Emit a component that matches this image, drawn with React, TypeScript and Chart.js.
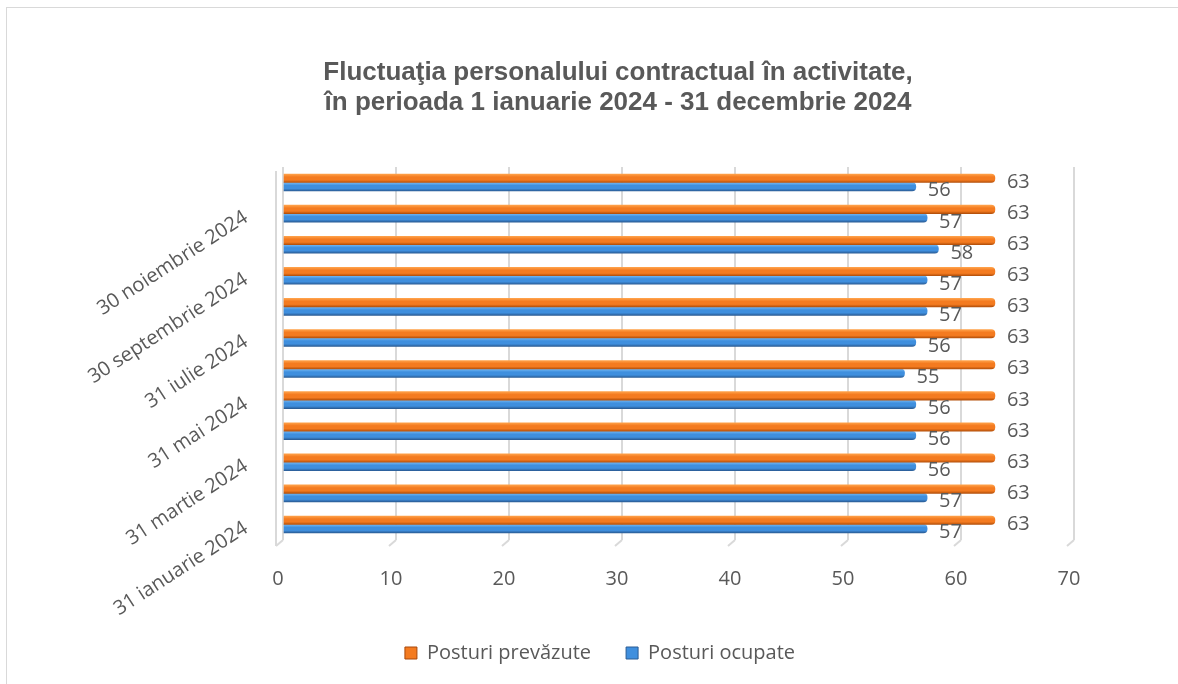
import React, { useEffect, useRef } from 'react';
import { Chart, registerables } from 'chart.js';

Chart.register(...registerables);

const titleLines = [
  'Fluctuaţia personalului contractual în activitate,',
  'în perioada 1 ianuarie 2024 - 31 decembrie 2024',
];

const categories = [
  '31 ianuarie 2024',
  '29 februarie 2024',
  '31 martie 2024',
  '30 aprilie 2024',
  '31 mai 2024',
  '30 iunie 2024',
  '31 iulie 2024',
  '31 august 2024',
  '30 septembrie 2024',
  '31 octombrie 2024',
  '30 noiembrie 2024',
  '31 decembrie 2024',
];

const posturiPrevazute = [63, 63, 63, 63, 63, 63, 63, 63, 63, 63, 63, 63];
const posturiOcupate = [57, 57, 56, 56, 56, 55, 56, 57, 57, 58, 57, 56];

const seriesNames = ['Posturi prevăzute', 'Posturi ocupate'];

const xMin = 0;
const xMax = 70;
const xStep = 10;

const TEXT = '#595959';
const GRID = '#d9d9d9';
const FONT = '"Open Sans", "Noto Sans", sans-serif';

// [top, middle, bottom, edge]
const orangeShades = ['#ffa24a', '#f47b20', '#b4500a', '#a9480a'];
const blueShades = ['#74b9f5', '#3f8fde', '#2a5c95', '#2a5c95'];
const shades = [orangeShades, blueShades];

const frameP = {
  id: 'frameP',
  beforeDraw(chart: any) {
    const { ctx } = chart;
    ctx.save();
    ctx.fillStyle = '#ffffff';
    ctx.fillRect(0, 0, chart.width, chart.height);
    ctx.strokeStyle = GRID;
    ctx.lineWidth = 1;
    ctx.strokeRect(6.5, 7.5, 1400, 1000);
    ctx.restore();
  },
};

const depthP = {
  id: 'depthP',
  beforeDatasetsDraw(chart: any) {
    const { ctx, chartArea } = chart;
    const { top, bottom, left } = chartArea;
    const x = chart.scales.x;
    ctx.save();
    ctx.strokeStyle = GRID;
    ctx.lineWidth = 2;
    ctx.beginPath();
    x.ticks.forEach((t: any) => {
      const px = x.getPixelForValue(t.value);
      ctx.moveTo(px, bottom);
      ctx.lineTo(px - 7, bottom + 6);
    });
    ctx.moveTo(left - 7, top + 4);
    ctx.lineTo(left - 7, bottom + 6);
    ctx.stroke();
    ctx.restore();
  },
};

const gradientP = {
  id: 'gradientP',
  beforeDatasetsDraw(chart: any) {
    const { ctx } = chart;
    chart.data.datasets.forEach((_ds: any, di: number) => {
      const meta = chart.getDatasetMeta(di);
      const s = shades[di];
      meta.data.forEach((el: any) => {
        const { y, height } = el.getProps(['y', 'height'], true);
        const g = ctx.createLinearGradient(0, y - height / 2, 0, y + height / 2);
        g.addColorStop(0, s[0]);
        g.addColorStop(0.35, s[1]);
        g.addColorStop(0.7, s[1]);
        g.addColorStop(1, s[2]);
        el.options = Object.assign({}, el.options, { backgroundColor: g });
      });
    });
  },
};

const labelsP = {
  id: 'labelsP',
  afterDatasetsDraw(chart: any) {
    const { ctx } = chart;
    ctx.save();
    ctx.font = '20px ' + FONT;
    ctx.fillStyle = TEXT;
    ctx.textAlign = 'left';
    ctx.textBaseline = 'middle';
    chart.data.datasets.forEach((ds: any, di: number) => {
      const meta = chart.getDatasetMeta(di);
      meta.data.forEach((el: any, i: number) => {
        const { x, y } = el.getProps(['x', 'y'], true);
        ctx.fillText(String(ds.data[i]), x + 12, y + 4);
      });
    });
    ctx.restore();
  },
};

const titleP = {
  id: 'titleP',
  afterDraw(chart: any) {
    const { ctx } = chart;
    ctx.save();
    ctx.font = 'bold 26px "Liberation Sans", Arial, sans-serif';
    ctx.fillStyle = TEXT;
    ctx.textAlign = 'center';
    ctx.textBaseline = 'middle';
    titleLines.forEach((line, i) => {
      ctx.fillText(line, 618, 73 + i * 30);
    });
    ctx.restore();
  },
};

export default function App() {
  const ref = useRef<HTMLCanvasElement | null>(null);

  useEffect(() => {
    if (!ref.current) return;
    const chart = new Chart(ref.current, {
      type: 'bar',
      data: {
        labels: categories,
        datasets: [
          {
            label: seriesNames[0],
            data: posturiPrevazute,
            backgroundColor: orangeShades[1],
            borderColor: orangeShades[3],
            borderWidth: 0,
            borderRadius: 4,
            borderSkipped: 'start',
            barThickness: 8.5,
            yAxisID: 'y',
          },
          {
            label: seriesNames[1],
            data: posturiOcupate,
            backgroundColor: blueShades[1],
            borderColor: blueShades[3],
            borderWidth: 0,
            borderRadius: 4,
            borderSkipped: 'start',
            barThickness: 8.5,
            yAxisID: 'y',
          },
        ],
      },
      options: {
        indexAxis: 'y',
        animation: false,
        responsive: true,
        maintainAspectRatio: false,
        layout: { padding: { left: 0, right: -22, top: 167, bottom: 11 } },
        scales: {
          x: {
            type: 'linear',
            min: xMin,
            max: xMax,
            position: 'bottom',
            grid: { color: GRID, lineWidth: 2, drawTicks: false },
            border: { display: false },
            ticks: {
              stepSize: xStep,
              color: TEXT,
              font: { family: FONT, size: 20 },
              padding: 27,
              labelOffset: -5,
            },
            afterFit(scale: any) {
              scale.height = 68;
            },
          },
          y: {
            type: 'category',
            reverse: true,
            position: 'left',
            grid: { display: false, drawTicks: false },
            border: { display: false },
            ticks: {
              autoSkip: false,
              minRotation: 33,
              maxRotation: 33,
              padding: 37,
              labelOffset: 2,
              color: TEXT,
              font: { family: FONT, size: 20 },
              callback: (_v: any, i: number) => (i % 2 === 0 ? categories[i] : ''),
            },
            afterFit(scale: any) {
              scale.width = 283;
            },
          },
          yRight: {
            type: 'category',
            position: 'right',
            display: true,
            grid: { display: false, drawTicks: false },
            border: { display: false },
            ticks: { display: false },
            afterFit(scale: any) {
              scale.width = 126;
            },
          },
        },
        plugins: {
          title: { display: false },
          tooltip: { enabled: false },
          legend: {
            display: true,
            position: 'bottom',
            labels: {
              boxWidth: 12,
              boxHeight: 12,
              padding: 35,
              color: TEXT,
              font: { family: FONT, size: 20 },
              generateLabels: (c: any) =>
                Chart.defaults.plugins.legend.labels
                  .generateLabels(c)
                  .map((l: any, i: number) => ({
                    ...l,
                    lineWidth: 1,
                    strokeStyle: shades[i][3],
                  })),
            },
          },
        },
      },
      plugins: [frameP, depthP, gradientP, labelsP, titleP],
    } as any);
    return () => chart.destroy();
  }, []);

  return (
    <div style={{ position: 'absolute', left: 0, top: 0, width: 1178, height: 684, background: '#fff' }}>
      <canvas ref={ref} />
    </div>
  );
}
